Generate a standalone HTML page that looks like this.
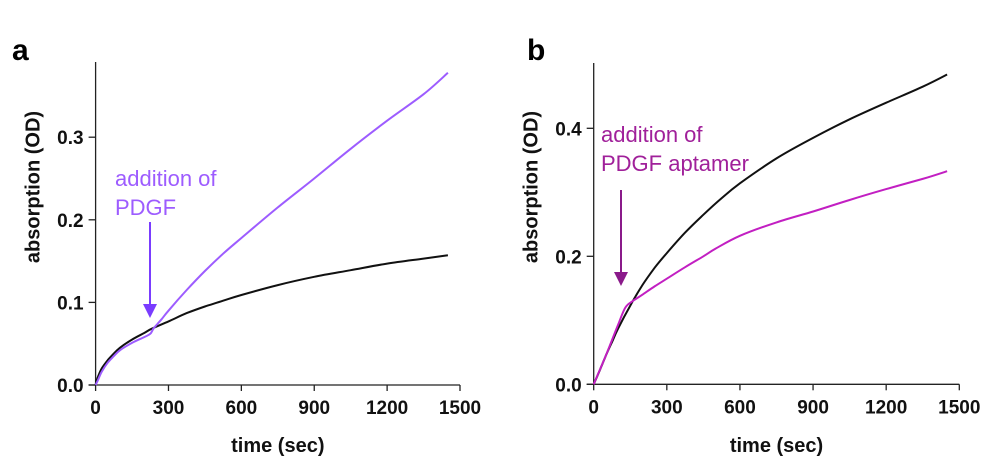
<!DOCTYPE html>
<html><head><meta charset="utf-8"><style>
html,body{margin:0;padding:0;background:#fff}
svg{display:block}
text{font-family:"Liberation Sans",Arial,sans-serif}
.tk{font-size:19px;font-weight:bold;fill:#111}
.ttl{font-size:20px;font-weight:bold;fill:#111}
</style></head><body>
<svg id="c" width="1000" height="463" viewBox="0 0 1000 463">
<text x="12" y="60" font-size="30" font-weight="bold">a</text>
<text x="527" y="60" font-size="30" font-weight="bold">b</text>
</svg>
<script>
const xTicks=[0,300,600,900,1200,1500];
const aYTicks=[0.0,0.1,0.2,0.3];
const aYLabels=["0.0","0.1","0.2","0.3"];
const bYTicks=[0.0,0.2,0.4];
const bYLabels=["0.0","0.2","0.4"];
const aTime=[0,5,10,25,50,75,100,150,200,230,300,375,450,525,600,750,900,1050,1200,1350,1450];
const aControl=[0,0.006,0.01,0.02,0.03,0.038,0.045,0.055,0.063,0.068,0.077,0.087,0.095,0.102,0.109,0.121,0.131,0.139,0.147,0.153,0.157];
const aTimeP=[0,10,25,50,75,100,150,200,225,240,270,300,375,450,525,600,750,900,1050,1200,1350,1450];
const aPDGF=[0,0.006,0.016,0.027,0.035,0.042,0.051,0.058,0.062,0.069,0.079,0.09,0.115,0.138,0.159,0.178,0.215,0.25,0.286,0.32,0.352,0.378];
const bTime=[0,25,50,75,100,150,200,250,300,375,450,525,600,750,900,1050,1200,1350,1450];
const bControl=[0,0.022,0.045,0.066,0.087,0.123,0.155,0.182,0.205,0.237,0.265,0.291,0.314,0.353,0.385,0.414,0.44,0.465,0.484];
const bTimeP=[0,50,100,130,160,200,250,300,375,450,500,600,750,900,1050,1200,1350,1450];
const bAptamer=[0,0.045,0.093,0.12,0.13,0.14,0.153,0.165,0.183,0.2,0.212,0.232,0.253,0.27,0.288,0.305,0.321,0.333];

const NS="http://www.w3.org/2000/svg";
const svg=document.getElementById('c');
function mk(tag,attrs,parent){const e=document.createElementNS(NS,tag);for(const k in attrs)e.setAttribute(k,attrs[k]);(parent||svg).appendChild(e);return e;}

function smooth(pts){
  let d='M'+pts[0][0].toFixed(1)+' '+pts[0][1].toFixed(1);
  for(let i=0;i<pts.length-1;i++){
    const p0=pts[Math.max(i-1,0)],p1=pts[i],p2=pts[i+1],p3=pts[Math.min(i+2,pts.length-1)];
    const c1=[p1[0]+(p2[0]-p0[0])/6,p1[1]+(p2[1]-p0[1])/6];
    const c2=[p2[0]-(p3[0]-p1[0])/6,p2[1]-(p3[1]-p1[1])/6];
    d+=`C${c1[0].toFixed(1)} ${c1[1].toFixed(1)} ${c2[0].toFixed(1)} ${c2[1].toFixed(1)} ${p2[0].toFixed(1)} ${p2[1].toFixed(1)}`;
  }
  return d;
}

function panel(p){
  const g=mk('g',{});
  
  
  const sx=t=>p.x0+(t/1500)*(p.x1-p.x0);
  const sy=v=>p.y0-v*p.ppu;
  const ax=mk('path',{d:`M${p.x0} ${p.top}V${p.y0}M${p.x0-7} ${p.y0}H${p.x1}`,stroke:'#222','stroke-width':1.3,fill:'none'},g);
  
  
  xTicks.forEach(t=>{
    mk('line',{x1:sx(t),x2:sx(t),y1:p.y0,y2:p.y0+6,stroke:'#222','stroke-width':1.3},g);
    const tx=mk('text',{x:sx(t),y:p.y0+29,'text-anchor':'middle',class:'tk'},g);
    tx.textContent=t;
    
    
  });
  p.yt.forEach((v,i)=>{
    mk('line',{x1:p.x0-7,x2:p.x0,y1:sy(v),y2:sy(v),stroke:'#222','stroke-width':1.3},g);
    const tx=mk('text',{x:p.x0-12,y:sy(v)+7,'text-anchor':'end',class:'tk'},g);
    tx.textContent=p.yl[i];
    
    
  });
  const xt=mk('text',{x:(p.x0+p.x1)/2,y:452,'text-anchor':'middle',class:'ttl'},g);
  xt.textContent='time (sec)';
  
  
  const yt=mk('text',{x:0,y:0,'text-anchor':'middle',class:'ttl',transform:`translate(${p.x0-56},187) rotate(-90)`},g);
  yt.textContent='absorption (OD)';
  
  
  p.series.forEach(s=>{
    const pts=s.t.map((t,i)=>[sx(t),sy(s.v[i])]);
    const l=mk('path',{d:smooth(pts),stroke:s.c,'stroke-width':2,fill:'none','stroke-linejoin':'round'},g);
    
    
  });
  const ar=mk('g',{},g);
  
  
  mk('line',{x1:p.ax,x2:p.ax,y1:p.ay1,y2:p.ay2-10,stroke:p.ac,'stroke-width':2},ar);
  mk('path',{d:`M${p.ax-7} ${p.ay2-14}L${p.ax+7} ${p.ay2-14}L${p.ax} ${p.ay2}Z`,fill:p.ac},ar);
  p.lines.forEach((s,i)=>{
    const tx=mk('text',{x:p.tx,y:p.ty+i*29,'font-size':22,fill:p.tc},g);
    tx.textContent=s;
    
    
  });
}
panel({name:'panel-a-chart',x0:95.6,x1:460,y0:385,top:62,ppu:826,yt:aYTicks,yl:aYLabels,
  series:[{t:aTime,v:aControl,c:'#111',n:'control-line'},{t:aTimeP,v:aPDGF,c:'#9d5cff',n:'pdgf-line'}],
  ax:150,ay1:222,ay2:318,ac:'#7a3cff',tx:115,ty:186,tc:'#9d5cff',lines:['addition of','PDGF']});
panel({name:'panel-b-chart',x0:593.7,x1:959.3,y0:384.3,top:63,ppu:640,yt:bYTicks,yl:bYLabels,
  series:[{t:bTime,v:bControl,c:'#111',n:'control-line'},{t:bTimeP,v:bAptamer,c:'#c21fc2',n:'aptamer-line'}],
  ax:621,ay1:190,ay2:286,ac:'#8a1a8a',tx:601,ty:142,tc:'#a0209a',lines:['addition of','PDGF aptamer']});
</script>
</body></html>
